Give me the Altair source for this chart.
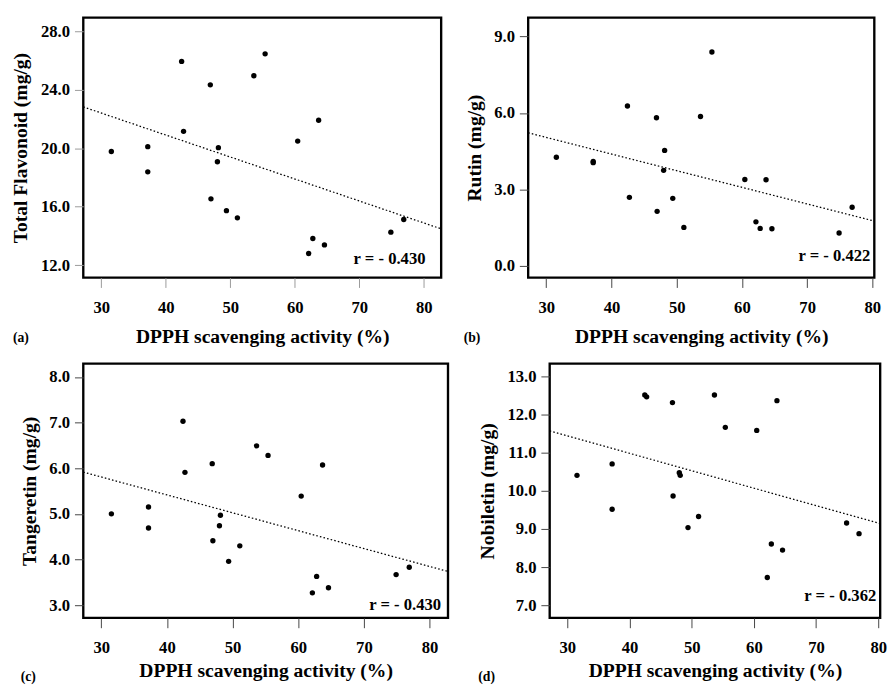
import altair as alt
import pandas as pd

# DPPH scavenging activity (%) -- shared x values
dpph = [31.55, 37.2, 37.2, 42.45, 42.75, 46.9, 47.0, 48.0, 48.15, 49.4,
        51.1, 53.65, 55.4, 60.45, 62.15, 62.8, 63.7, 64.6, 74.9, 76.9]
# (a) Total Flavonoid (mg/g)
flavonoid = [19.78, 20.11, 18.39, 25.94, 21.16, 24.34, 16.54, 19.08, 20.04, 15.73,
             15.24, 24.96, 26.46, 20.49, 12.80, 13.83, 21.92, 13.39, 14.26, 15.13]
# (b) Rutin (mg/g)
rutin = [4.26, 4.10, 4.05, 6.27, 2.69, 5.81, 2.14, 3.75, 4.53, 2.65,
         1.51, 5.86, 8.39, 3.39, 1.73, 1.47, 3.38, 1.46, 1.29, 2.30]
# (c) Tangeretin (mg/g)
tangeretin = [5.00, 5.15, 4.69, 7.03, 5.91, 6.10, 4.41, 4.74, 4.97, 3.96,
              4.30, 6.49, 6.28, 5.39, 3.27, 3.63, 6.07, 3.38, 3.67, 3.83]
# (d) Nobiletin (mg/g)
nobiletin = [10.41, 10.71, 9.52, 12.52, 12.47, 12.32, 9.87, 10.48, 10.41, 9.04,
             9.33, 12.52, 11.67, 11.59, 7.73, 8.61, 12.37, 8.45, 9.16, 8.88]

x_ticks = [30, 40, 50, 60, 70, 80]
y_titles = ["Total Flavonoid (mg/g)", "Rutin (mg/g)", "Tangeretin (mg/g)", "Nobiletin (mg/g)"]
y_ticks = [[12, 16, 20, 24, 28], [0, 3, 6, 9], [3, 4, 5, 6, 7, 8], [7, 8, 9, 10, 11, 12, 13]]
r_labels = ["r = - 0.430", "r = - 0.422", "r = - 0.430", "r = - 0.362"]
panel_labels = ["(a)", "(b)", "(c)", "(d)"]

df = pd.DataFrame({"dpph": dpph, "flav": flavonoid, "rutin": rutin,
                   "tang": tangeretin, "nobi": nobiletin})

FONT = "Liberation Serif"


def panel(field, i, xdom, ydom, w, h, tick_color, label_pad_x, title_pad_x, r_x, r_y, lab_x, lab_y):
    base = alt.Chart(df)
    x_enc = alt.X("dpph:Q", scale=alt.Scale(domain=xdom, nice=False, zero=False),
                  axis=alt.Axis(values=x_ticks, tickColor=tick_color, tickSize=10,
                                labelPadding=label_pad_x, titlePadding=title_pad_x),
                  title="DPPH scavenging activity (%)")
    y_enc = alt.Y(f"{field}:Q", scale=alt.Scale(domain=ydom, nice=False, zero=False),
                  axis=alt.Axis(values=y_ticks[i], format=".1f", tickColor=tick_color,
                                tickSize=9, labelPadding=5, titlePadding=10),
                  title=y_titles[i])
    pts = base.mark_circle(size=30, color="black", opacity=1).encode(x=x_enc, y=y_enc)
    line = base.transform_regression("dpph", field, extent=xdom).mark_line(
        color="black", strokeWidth=1.3, strokeDash=[1.6, 2.2]).encode(x="dpph:Q", y=f"{field}:Q")
    txt_df = pd.DataFrame({"r": [r_labels[i]], "lab": [panel_labels[i]]})
    rtxt = alt.Chart(txt_df).mark_text(font=FONT, fontWeight="bold", fontSize=17,
                                       align="right", baseline="alphabetic", color="black").encode(
        x=alt.value(r_x), y=alt.value(r_y), text="r:N")
    ltxt = alt.Chart(txt_df).mark_text(font=FONT, fontWeight="bold", fontSize=14,
                                       align="left", baseline="alphabetic", color="black").encode(
        x=alt.value(lab_x), y=alt.value(lab_y), text="lab:N")
    return alt.layer(line, pts, rtxt, ltxt).properties(width=w, height=h)


pa = panel("flav", 0, [27.2, 82.7], [11.15, 28.94], 366, 266, "#9a9a9a", 13, 11,
           366 - 16, 266 - 14, -72, 266 + 66)
pb = panel("rutin", 1, [27.23, 80.3], [-0.46, 9.74], 354, 266, "#444444", 13, 11,
           354 - 4, 266 - 17, -66, 266 + 66)
pc = panel("tang", 2, [27.27, 82.8], [2.72, 8.29], 373, 260, "#444444", 12, 6,
           373 - 7, 260 - 8, -64, 260 + 64)
pd_ = panel("nobi", 3, [27.16, 80.3], [6.67, 13.34], 338, 260, "#444444", 12, 6,
            338 - 4, 260 - 17, -73, 260 + 64)

chart = alt.vconcat(
    alt.hconcat(pa, pb, spacing=17),
    alt.hconcat(pc, pd_, spacing=25),
    spacing=14,
).properties(
    padding={"left": 2, "top": 0, "right": 0, "bottom": 0}
).configure_view(
    stroke="black", strokeWidth=2.4
).configure_axis(
    domain=False, grid=False,
    labelFont=FONT, labelFontWeight="bold", labelFontSize=17, labelColor="black",
    titleFont=FONT, titleFontWeight="bold", titleFontSize=20, titleColor="black",
)

chart.save("out.html", embed_options={"renderer": "svg", "actions": False})
